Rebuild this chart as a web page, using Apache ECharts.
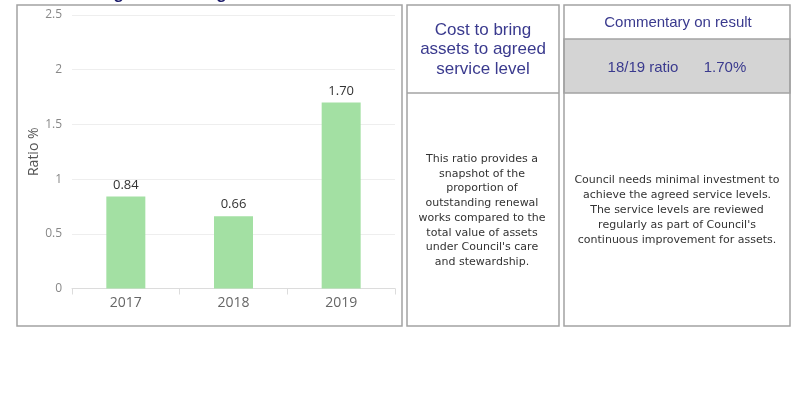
<!DOCTYPE html>
<html>
<head>
<meta charset="utf-8">
<script src="https://cdn.jsdelivr.net/npm/echarts@6/dist/echarts.min.js"></script>
<style>
  html, body { margin: 0; padding: 0; background: #ffffff; }
  #chart { width: 796px; height: 394px; }
</style>
</head>
<body>
<div id="chart"></div>
<script>
// Cost to bring assets to agreed service level, by financial year
const years = ['2017', '2018', '2019'];
const ratios = [0.84, 0.66, 1.70];

const measureTitle = 'Cost to bring assets to agreed service level';
const headerLines = ['Cost to bring', 'assets to agreed', 'service level'];
const descriptionLines = [
  'This ratio provides a',
  'snapshot of the',
  'proportion of',
  'outstanding renewal',
  'works compared to the',
  'total value of assets',
  "under Council's care",
  'and stewardship.'
];
const commentaryHeading = 'Commentary on result';
const ratioLabel = '18/19 ratio';
const commentaryLines = [
  'Council needs minimal investment to',
  'achieve the agreed service levels.',
  'The service levels are reviewed',
  "regularly as part of Council's",
  'continuous improvement for assets.'
];

const latestRatio = ratios[ratios.length - 1].toFixed(2) + '%';

const navy = '#3a3a8e';
const bodyText = '#333333';
const frame = '#a3a3a3';
const panelFont = 'Liberation Sans, Arial, sans-serif';
const bodyFont = 'DejaVu Sans, sans-serif';

function lineTexts(lines, cx, firstY, step, font, color) {
  return lines.map((t, i) => ({
    type: 'text',
    x: cx,
    y: firstY + i * step,
    z: 10,
    style: { text: t, font: font, fill: color, align: 'center', verticalAlign: 'middle' }
  }));
}

const graphics = [
  // panel frames
  { type: 'rect', shape: { x: 17, y: 5, width: 385, height: 321 }, z: -1,
    style: { fill: 'none', stroke: frame, lineWidth: 1.5 } },
  { type: 'rect', shape: { x: 407, y: 5, width: 152, height: 321 }, z: -1,
    style: { fill: 'none', stroke: frame, lineWidth: 1.5 } },
  { type: 'rect', shape: { x: 564, y: 39, width: 226, height: 54 }, z: -1,
    style: { fill: '#d4d4d4', stroke: frame, lineWidth: 1.5 } },
  { type: 'rect', shape: { x: 564, y: 5, width: 226, height: 321 }, z: -1,
    style: { fill: 'none', stroke: frame, lineWidth: 1.5 } },
  { type: 'line', shape: { x1: 407, y1: 93, x2: 559, y2: 93 }, z: -1,
    style: { stroke: frame, lineWidth: 1.5 } },
  // heading running above the frame
  { type: 'text', x: 18, y: -6, z: 10,
    style: { text: measureTitle, font: 'bold 17px ' + panelFont, fill: '#1c1c6b',
             align: 'left', verticalAlign: 'middle' } },
  // commentary heading and latest ratio
  { type: 'text', x: 678, y: 23, z: 10,
    style: { text: commentaryHeading, font: '15px ' + panelFont, fill: navy,
             align: 'center', verticalAlign: 'middle' } },
  { type: 'text', x: 643, y: 68, z: 10,
    style: { text: ratioLabel, font: '15px ' + panelFont, fill: navy,
             align: 'center', verticalAlign: 'middle' } },
  { type: 'text', x: 725, y: 68, z: 10,
    style: { text: latestRatio, font: '15px ' + panelFont, fill: navy,
             align: 'center', verticalAlign: 'middle' } }
]
  .concat(lineTexts(headerLines, 483, 30, 19.5, '17px ' + panelFont, navy))
  .concat(lineTexts(descriptionLines, 482, 159, 14.75, '11px ' + bodyFont, bodyText))
  .concat(lineTexts(commentaryLines, 677, 180, 15, '11px ' + bodyFont, bodyText));

const chart = echarts.init(document.getElementById('chart'), null, { renderer: 'canvas' });

chart.setOption({
  backgroundColor: '#ffffff',
  animation: false,
  textStyle: { fontFamily: 'Open Sans, sans-serif' },
  grid: { left: 72, right: 401, top: 15, bottom: 105.5 },
  xAxis: {
    type: 'category',
    data: years,
    axisLine: { lineStyle: { color: '#dcdcdc' } },
    axisTick: { show: true, length: 6, lineStyle: { color: '#dcdcdc' } },
    axisLabel: { color: '#666666', fontSize: 14, margin: 8 }
  },
  yAxis: {
    type: 'value',
    min: 0,
    max: 2.5,
    interval: 0.5,
    name: 'Ratio %',
    nameLocation: 'middle',
    nameGap: 31,
    nameTextStyle: { color: '#555555', fontSize: 14 },
    axisLine: { show: false },
    axisTick: { show: false },
    axisLabel: { color: '#888888', fontSize: 12, margin: 10 },
    splitLine: { lineStyle: { color: '#eeeeee' } }
  },
  series: [{
    type: 'bar',
    data: ratios,
    barWidth: 39,
    itemStyle: { color: '#a3e0a3' },
    label: {
      show: true,
      position: 'top',
      distance: 5,
      color: '#333333',
      fontSize: 13,
      formatter: p => p.value.toFixed(2)
    }
  }],
  graphic: graphics
});
</script>
</body>
</html>
